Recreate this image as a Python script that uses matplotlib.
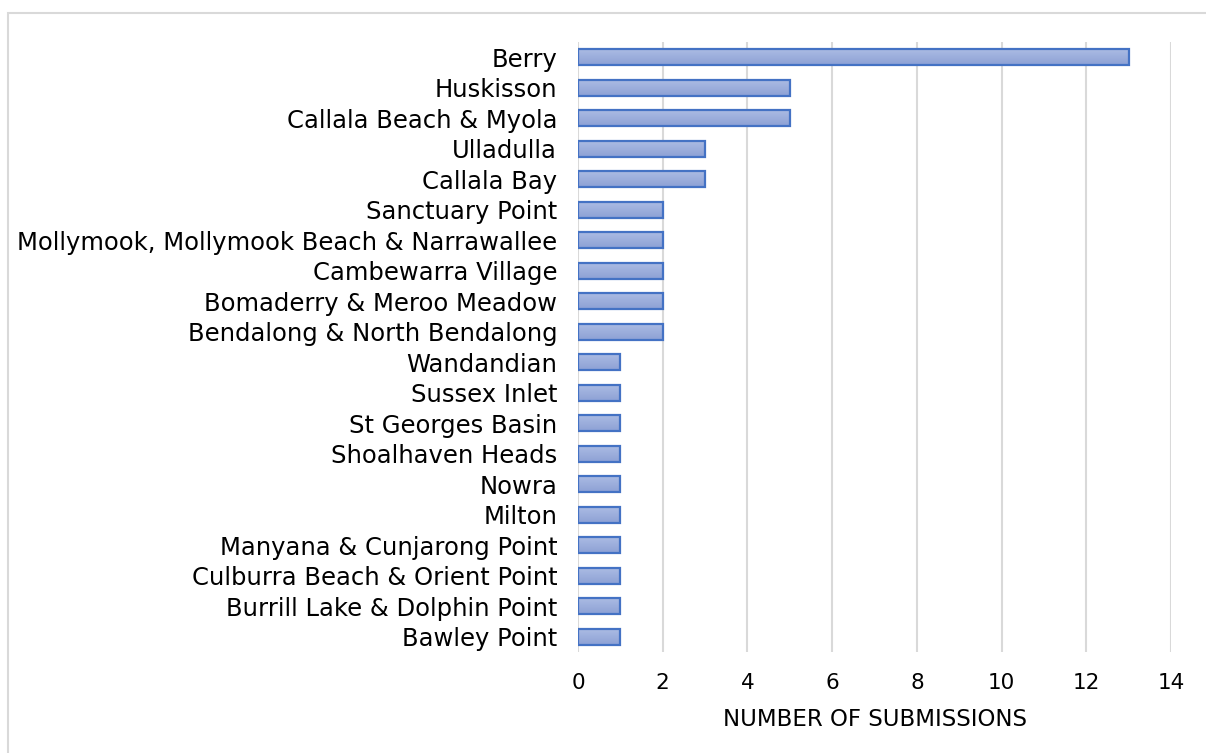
import matplotlib
matplotlib.use("Agg")
import matplotlib.pyplot as plt
import numpy as np
from matplotlib.patches import Rectangle
from matplotlib.colors import LinearSegmentedColormap

plt.rcParams["font.family"] = ["DejaVu Sans"]

towns = [
    "Berry", "Huskisson", "Callala Beach & Myola", "Ulladulla", "Callala Bay",
    "Sanctuary Point", "Mollymook, Mollymook Beach & Narrawallee",
    "Cambewarra Village", "Bomaderry & Meroo Meadow",
    "Bendalong & North Bendalong", "Wandandian", "Sussex Inlet",
    "St Georges Basin", "Shoalhaven Heads", "Nowra", "Milton",
    "Manyana & Cunjarong Point", "Culburra Beach & Orient Point",
    "Burrill Lake & Dolphin Point", "Bawley Point",
]
submissions = [13, 5, 5, 3, 3, 2, 2, 2, 2, 2, 1, 1, 1, 1, 1, 1, 1, 1, 1, 1]
x_ticks = [0, 2, 4, 6, 8, 10, 12, 14]

fig = plt.figure(figsize=(12.06, 7.53), dpi=100)
ax = fig.add_axes([0.4793, 0.134, 0.4917, 0.810])

# outer chart border
fig.patches.append(Rectangle((0.0066, -0.05), 1.1, 0.9827 + 0.05,
                             transform=fig.transFigure, fill=False,
                             edgecolor="#D9D9D9", linewidth=1.5))

ypos = list(range(len(towns)))
bars = ax.barh(ypos, submissions, height=0.52, color="none",
               edgecolor="#4472C4", linewidth=1.6, zorder=4)

# vertical gradient inside each bar (lighter on top)
grad_cmap = LinearSegmentedColormap.from_list("bar", ["#ABBBE3", "#8DA1D5"])
grad = np.linspace(0, 1, 64).reshape(-1, 1)
for b in bars:
    x0, y0 = b.get_x(), b.get_y()
    im = ax.imshow(grad, cmap=grad_cmap, aspect="auto", zorder=3,
                   extent=[x0, x0 + b.get_width(), y0 + b.get_height(), y0],
                   origin="upper")
    im.set_clip_path(b)

ax.set_ylim(len(towns) - 0.5, -0.5)
ax.set_xlim(0, 14)
ax.set_aspect("auto")
ax.set_yticks(ypos)
ax.set_yticklabels(towns, fontsize=17.5)
ax.set_xticks(x_ticks)
ax.set_xticklabels([str(t) for t in x_ticks], fontsize=15.5)
ax.tick_params(length=0)
ax.tick_params(axis="x", pad=15)
ax.tick_params(axis="y", pad=15)

ax.grid(axis="x", color="#D9D9D9", linewidth=1.5, zorder=0)
ax.set_axisbelow(True)
for s in ax.spines.values():
    s.set_visible(False)

ax.set_xlabel("NUMBER OF SUBMISSIONS", fontsize=16.5, labelpad=11)

fig.savefig("out.png", dpi=100)
